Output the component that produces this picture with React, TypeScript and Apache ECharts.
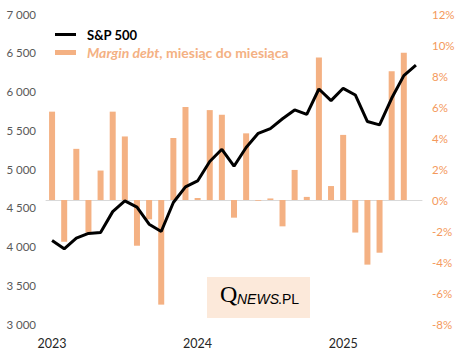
import React, { useEffect, useRef } from "react";
import * as echarts from "echarts";

const months: string[] = [
  "2023-01","2023-02","2023-03","2023-04","2023-05","2023-06","2023-07","2023-08","2023-09","2023-10","2023-11","2023-12",
  "2024-01","2024-02","2024-03","2024-04","2024-05","2024-06","2024-07","2024-08","2024-09","2024-10","2024-11","2024-12",
  "2025-01","2025-02","2025-03","2025-04","2025-05","2025-06","2025-07",
];

const sp500: number[] = [
  4077, 3970, 4109, 4169, 4180, 4450, 4589, 4508, 4288, 4194, 4568, 4770,
  4846, 5096, 5254, 5036, 5278, 5460, 5522, 5648, 5762, 5705, 6032, 5882,
  6041, 5955, 5612, 5569, 5912, 6205, 6339,
];

const marginDebtMoM: number[] = [
  5.7, -2.7, 3.3, -2.1, 1.9, 5.7, 4.1, -2.95, -1.25, -6.75, 4.0, 6.0,
  0.13, 5.8, 5.5, -1.14, 4.3, -0.05, 0.1, -1.7, 1.94, 0.2, 9.2, 0.9,
  4.2, -2.1, -4.17, -3.4, 8.3, 9.5,
];

const SERIES_SP = "S&P 500";
const SERIES_MD = "Margin debt, miesiąc do miesiąca";

const FONT = "Lato, 'Open Sans', sans-serif";
const BAR_COLOR = "#F4B183";
const RIGHT_LABEL = "#F4995C";

export default function App() {
  const ref = useRef<HTMLDivElement>(null);
  useEffect(() => {
    document.body.style.margin = "0";
    if (!ref.current) return;
    const chart = echarts.init(ref.current, undefined, { renderer: "svg" });
    chart.setOption({
      animation: false,
      backgroundColor: "#ffffff",
      textStyle: { fontFamily: FONT },
      grid: { left: 46, right: 40, top: 14, bottom: 34 },
      legend: {
        orient: "vertical",
        left: 55,
        top: 26,
        padding: 0,
        itemWidth: 21,
        itemHeight: 5,
        itemGap: 1,
        selectedMode: false,
        data: [
          { name: SERIES_SP, icon: "path://M0,0H21V3H0Z", itemStyle: { color: "#000000" }, textStyle: { color: "#000000" } },
          { name: SERIES_MD, icon: "rect" },
        ],
        formatter: (name: string) =>
          name === SERIES_SP ? "{b|S&P 500}" : "{i|Margin debt}{m|, miesiąc do miesiąca}",
        textStyle: {
          fontFamily: FONT,
          fontSize: 13,
          lineHeight: 17,
          padding: [0, 0, 0, 6],
          rich: {
            b: { fontFamily: FONT, fontSize: 13, fontWeight: "bold", color: "#000000", lineHeight: 17 },
            i: { fontFamily: FONT, fontSize: 14, fontWeight: "bold", fontStyle: "italic", color: BAR_COLOR, lineHeight: 17 },
            m: { fontFamily: FONT, fontSize: 14, fontWeight: "bold", color: BAR_COLOR, lineHeight: 17 },
          },
        },
      },
      xAxis: {
        type: "category",
        data: months,
        boundaryGap: true,
        axisLine: { lineStyle: { color: "#D9D9D9", width: 1 } },
        axisTick: {
          length: 5,
          interval: (i: number) => i % 12 === 0,
          lineStyle: { color: "#D9D9D9" },
        },
        axisLabel: {
          interval: (i: number) => i % 12 === 0,
          formatter: (v: string) => v.slice(0, 4),
          color: "#262626",
          fontSize: 12.5,
          margin: 13,
          fontFamily: FONT,
        },
        splitLine: { show: false },
      },
      yAxis: [
        {
          type: "value",
          min: 3000,
          max: 7000,
          interval: 500,
          position: "left",
          axisLine: { show: false },
          axisTick: { show: false },
          splitLine: { show: false },
          axisLabel: {
            color: "#595959",
            fontSize: 11.5,
            margin: 10,
            fontFamily: FONT,
            formatter: (v: number) => {
              const s = String(Math.round(v));
              return s.length > 3 ? s.slice(0, s.length - 3) + " " + s.slice(-3) : s;
            },
          },
        },
        {
          type: "value",
          min: -8,
          max: 12,
          interval: 2,
          position: "right",
          axisLine: { show: false },
          axisTick: { show: false },
          splitLine: { show: false },
          axisLabel: {
            color: RIGHT_LABEL,
            fontSize: 11.5,
            margin: 10,
            fontFamily: FONT,
            formatter: (v: number) => `${v}%`,
          },
        },
      ],
      series: [
        {
          name: SERIES_MD,
          type: "bar",
          yAxisIndex: 1,
          data: marginDebtMoM,
          barWidth: 6,
          itemStyle: { color: BAR_COLOR },
          z: 1,
        },
        {
          name: SERIES_SP,
          type: "line",
          yAxisIndex: 0,
          data: sp500,
          symbol: "none",
          lineStyle: { color: "#000000", width: 3 },
          itemStyle: { color: "#000000" },
          z: 3,
        },
      ],
      graphic: [
        {
          type: "group",
          left: 207,
          top: 277,
          z: 10,
          children: [
            { type: "rect", shape: { x: 0, y: 0, width: 103, height: 41 }, style: { fill: "#FCE9DA" } },
            {
              type: "text",
              x: 13,
              y: 29,
              style: { text: "Q", font: "24px 'Liberation Serif', serif", fill: "#000000", textVerticalAlign: "bottom" },
            },
            {
              type: "text",
              x: 30,
              y: 29,
              style: { text: "NEWS", font: "italic 14px 'Liberation Sans', sans-serif", fill: "#000000", textVerticalAlign: "bottom" },
            },
            {
              type: "text",
              x: 71,
              y: 29,
              style: { text: ".PL", font: "14px 'Liberation Sans', sans-serif", fill: "#000000", textVerticalAlign: "bottom" },
            },
          ],
        },
      ],
    });
    return () => chart.dispose();
  }, []);
  return <div ref={ref} style={{ width: 462, height: 358 }} />;
}
